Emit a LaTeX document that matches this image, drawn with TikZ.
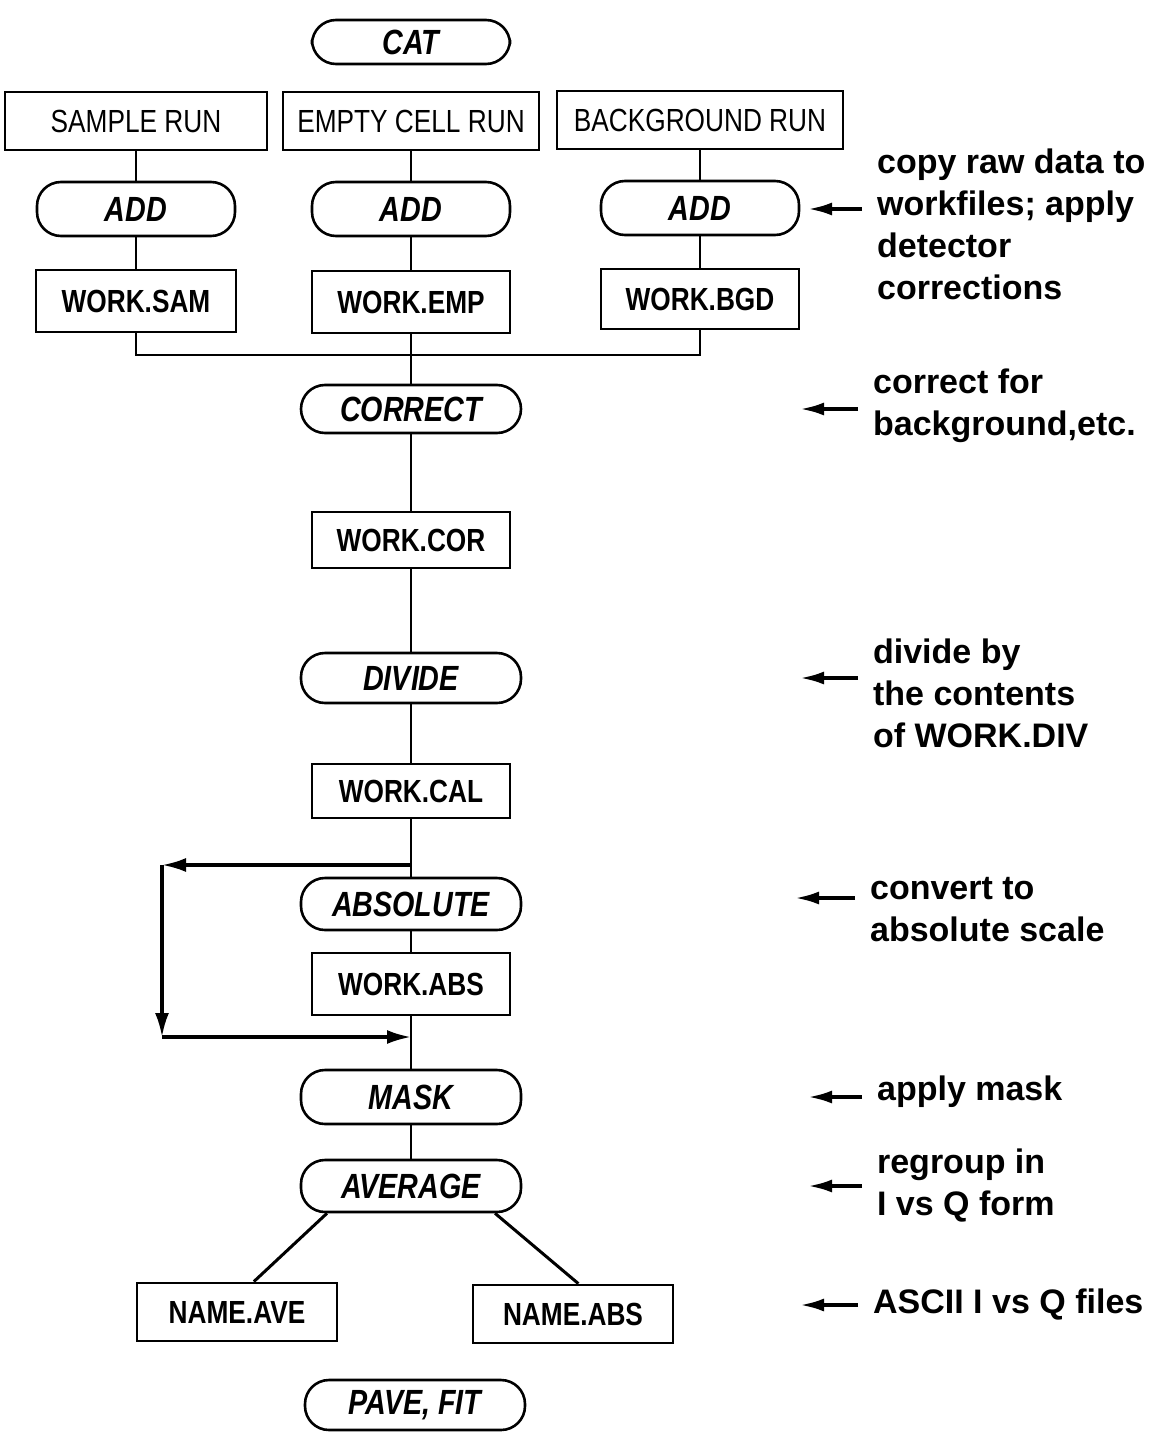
\documentclass[tikz,border=0pt]{standalone}
\usepackage{fontspec}
\setmainfont{Liberation Sans}
\newfontfamily\narrowfont[FakeStretch=0.82]{Liberation Sans}
\usetikzlibrary{arrows.meta}

\begin{document}
\begin{tikzpicture}[
	x = 0.5pt, y = -0.5pt, line width = 1.1pt,
	pill/.style = {draw, line width = 1.3pt, rounded corners = 12pt,
		minimum width = 110pt, minimum height = 26pt, inner sep = 0pt,
		font = \narrowfont\bfseries\itshape\fontsize{17.5}{18}\selectfont},
	box/.style = {draw, line width = 1.4pt, minimum width = 99pt,
		minimum height = 29pt, inner sep = 0pt,
		font = \narrowfont\bfseries\fontsize{16}{18}\selectfont},
	runbox/.style = {box, font = \narrowfont\fontsize{16}{18}\selectfont},
	note/.style = {anchor = west, align = left, inner xsep = 7pt, inner ysep = 0pt,
		font = \bfseries\fontsize{17}{21}\selectfont},
	sidearrow/.style = {line width = 1.8pt, -{Latex[length = 12pt, width = 6.5pt]}},
	looparrow/.style = {line width = 1.6pt, -{Latex[length = 12pt, width = 7pt]}}
	]
	\useasboundingbox (0,0) rectangle (1157,1434);

	\node[pill, minimum width = 99pt, minimum height = 22pt] (cat) at (411,42) {CAT};
	\node[runbox, minimum width = 131pt] (run1) at (136,121) {SAMPLE RUN};
	\node[runbox, minimum width = 128pt] (run2) at (411,121) {EMPTY CELL RUN};
	\node[runbox, minimum width = 143pt] (run3) at (700,120) {BACKGROUND RUN};
	\node[pill, minimum width = 99pt, minimum height = 27pt] (add1) at (136,209) {ADD};
	\node[pill, minimum width = 99pt, minimum height = 27pt] (add2) at (411,209) {ADD};
	\node[pill, minimum width = 99pt, minimum height = 27pt] (add3) at (700,208) {ADD};
	\node[box, minimum width = 100pt, minimum height = 31pt] (work1) at (136,301) {WORK.SAM};
	\node[box, minimum height = 31pt] (work2) at (411,302) {WORK.EMP};
	\node[box, minimum height = 30pt] (work3) at (700,299) {WORK.BGD};
	\coordinate (bus) at (411,355);

	\node[pill, minimum height = 24pt] (correct) at (411,409) {CORRECT};
	\node[box, minimum height = 28pt] (workCor) at (411,540) {WORK.COR};
	\node[pill, minimum height = 25pt] (divide) at (411,678) {DIVIDE};
	\node[box, minimum height = 27pt] (workCal) at (411,791) {WORK.CAL};
	\coordinate (split) at (411,865);
	\node[pill] (absolute) at (411,904) {ABSOLUTE};
	\node[box, minimum height = 31pt] (workAbs) at (411,984) {WORK.ABS};
	\coordinate (join) at (411,1037);
	\node[pill, minimum height = 27pt] (mask) at (411,1097) {MASK};
	\node[pill] (average) at (411,1186) {AVERAGE};
	\node[box, minimum width = 100pt] (nameAve) at (237,1312) {NAME.AVE};
	\node[box, minimum width = 100pt] (nameAbs) at (573,1314) {NAME.ABS};
	\node[pill, minimum height = 25pt] (paveFit) at (415,1405) {PAVE, FIT};

	\foreach \i in {1,2,3} \draw (run\i) -- (add\i) -- (work\i);
	\draw (work1) |- (bus) -| (work3);
	\draw (work2) -- (correct) -- (workCor) -- (divide) -- (workCal) -- (absolute)
		-- (workAbs) -- (mask) -- (average);
	\draw[line width = 1.5pt] (average.198) -- (nameAve.61);
	\draw[line width = 1.5pt] (average.342) -- (nameAbs.80);

	% loop around ABSOLUTE
	\coordinate (loopTop) at (162,865);
	\coordinate (loopBot) at (162,1037);
	\draw[looparrow] (split) -- (loopTop);
	\draw[looparrow] (loopTop) -- (loopBot);
	\draw[looparrow] (loopBot) -- (join);

	\node[note] (n1) at (862,224) {copy raw data to\\workfiles; apply\\detector\\corrections};
	\node[note] (n2) at (858,406) {correct for\\background,etc.};
	\node[note] (n3) at (858,693) {divide by\\the contents\\of WORK.DIV};
	\node[note] (n4) at (855,910) {convert to\\absolute scale};
	\node[note] (n5) at (862,1092) {apply mask};
	\node[note] (n6) at (862,1186) {regroup in\\I vs Q form};
	\node[note] (n7) at (858,1305) {ASCII I vs Q files};
	\coordinate (t1) at (808,209);
	\coordinate (t2) at (800,409);
	\coordinate (t3) at (800,678);
	\coordinate (t4) at (795,898);
	\coordinate (t5) at (808,1097);
	\coordinate (t6) at (808,1186);
	\coordinate (t7) at (800,1305);
	\foreach \i in {1,...,7} \draw[sidearrow] (n\i.west |- t\i) -- (t\i);
\end{tikzpicture}
\end{document}
